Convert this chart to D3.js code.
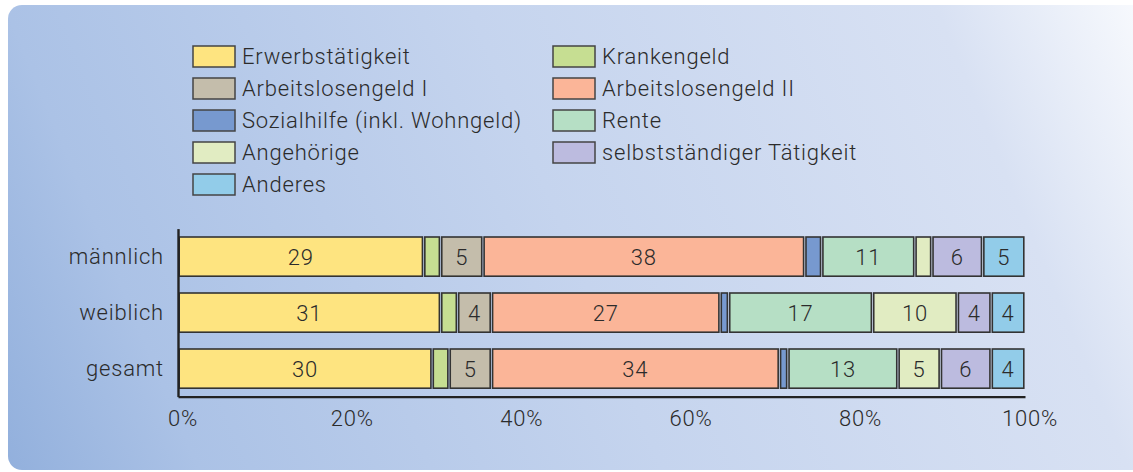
<!DOCTYPE html>
<html>
<head>
<meta charset="utf-8">
<script src="https://cdn.jsdelivr.net/npm/d3@7"></script>
<style>
  html, body { margin: 0; padding: 0; background: #fff; }
  svg { display: block; font-family: Roboto, "Liberation Sans", sans-serif; }
</style>
</head>
<body>
<div id="chart"></div>
<script>
// data (percent)
const groups = ["männlich", "weiblich", "gesamt"];
const seriesNames = ["Erwerbstätigkeit", "Krankengeld", "Arbeitslosengeld I", "Arbeitslosengeld II",
    "Sozialhilfe (inkl. Wohngeld)", "Rente", "Angehörige", "selbstständiger Tätigkeit", "Anderes"];
const seriesColors = ["#fee480", "#c6de92", "#c4bdab", "#fbb598", "#7799cf", "#b6dfc5", "#e1ecc2", "#bcbbdf", "#92cce9"];
const maennlich = [29, 2, 5, 38, 2, 11, 2, 6, 5];
const weiblich = [31, 2, 4, 27, 1, 17, 10, 4, 4];
const gesamt = [30, 2, 5, 34, 1, 13, 5, 6, 4];
const xTicks = [0, 20, 40, 60, 80, 100];

const values = [maennlich, weiblich, gesamt];
const rows = groups.map(function(g, i) {
    const r = {group: g};
    seriesNames.forEach(function(s, j) { r[s] = values[i][j]; });
    return r;
});

const W = 1133, H = 472;
const svg = d3.select("#chart").append("svg").attr("width", W).attr("height", H);

// background panel with diagonal gradient
const defs = svg.append("defs");
const grad = defs.append("linearGradient").attr("id", "bg")
    .attr("gradientUnits", "userSpaceOnUse")
    .attr("x1", 0).attr("y1", 472).attr("x2", 1133).attr("y2", 0);
grad.append("stop").attr("offset", 0).attr("stop-color", "#91afdc");
grad.append("stop").attr("offset", 0.15).attr("stop-color", "#abc2e6");
grad.append("stop").attr("offset", 0.5).attr("stop-color", "#c5d4ee");
grad.append("stop").attr("offset", 0.85).attr("stop-color", "#d8e1f3");
grad.append("stop").attr("offset", 1).attr("stop-color", "#f7f9fd");
svg.append("rect").attr("x", 8).attr("y", 5).attr("width", 1160).attr("height", 465)
    .attr("rx", 14).attr("fill", "url(#bg)");

const x = d3.scaleLinear().domain([0, 100]).range([178, 1025]);
const y = d3.scaleBand().domain(groups).range([228.6, 396.6]).paddingInner(0.3).paddingOuter(0.15);
const color = d3.scaleOrdinal().domain(seriesNames).range(seriesColors);

const stacked = d3.stack().keys(seriesNames)(rows);

// bars
const layer = svg.append("g").selectAll("g")
    .data(stacked)
    .join("g")
    .attr("fill", function(d) { return color(d.key); });

layer.selectAll("rect")
    .data(function(d) { return d; })
    .join("rect")
    .attr("x", function(d) { return x(d[0]) + 1.2; })
    .attr("y", function(d) { return y(d.data.group); })
    .attr("width", function(d) { return Math.max(0, x(d[1]) - x(d[0]) - 2.4); })
    .attr("height", y.bandwidth())
    .attr("stroke", "#333")
    .attr("stroke-width", 1.6);

layer.selectAll("text")
    .data(function(d) { return d.filter(function(p) { return p[1] - p[0] >= 4; }); })
    .join("text")
    .attr("x", function(d) { return (x(d[0]) + x(d[1])) / 2; })
    .attr("y", function(d) { return y(d.data.group) + y.bandwidth() / 2; })
    .attr("dy", "0.36em")
    .attr("text-anchor", "middle")
    .attr("fill", "#2b2b2b")
    .style("font-size", "22px")
    .style("font-weight", 300)
    .style("letter-spacing", "0.8px")
    .text(function(d) { return d[1] - d[0]; });

// axes
const yAxis = svg.append("g")
    .attr("transform", "translate(178,0)")
    .call(d3.axisLeft(y).tickSize(0).tickSizeOuter(0).tickPadding(14));
const xAxis = svg.append("g")
    .attr("transform", "translate(0," + 396.6 + ")")
    .call(d3.axisBottom(x).tickValues(xTicks).tickSize(0).tickSizeOuter(0).tickPadding(14)
        .tickFormat(function(d) { return d + "%"; }));
[yAxis, xAxis].forEach(function(a) {
    a.select(".domain").attr("stroke", "#222").attr("stroke-width", 2.4);
    a.selectAll("text").attr("fill", "#2b2b2b").style("font-size", "22px").style("font-weight", 300)
        .style("letter-spacing", "0.8px")
        .style("font-family", "Roboto, 'Liberation Sans', sans-serif");
});
xAxis.selectAll("text").attr("dx", "0.2em");

// legend, two columns filled row by row
const legend = svg.append("g").selectAll("g")
    .data(seriesNames)
    .join("g")
    .attr("transform", function(d, i) {
        return "translate(" + (i % 2 === 0 ? 193 : 553) + "," + (46 + Math.floor(i / 2) * 32) + ")";
    });
legend.append("rect")
    .attr("width", 42).attr("height", 21)
    .attr("fill", function(d) { return color(d); })
    .attr("stroke", "#444").attr("stroke-width", 1.5);
legend.append("text")
    .attr("x", 49).attr("y", 10.5).attr("dy", "0.36em")
    .attr("fill", "#2b2b2b")
    .style("font-size", "22px")
    .style("font-weight", 300)
    .style("letter-spacing", "0.8px")
    .text(function(d) { return d; });
</script>
</body>
</html>
